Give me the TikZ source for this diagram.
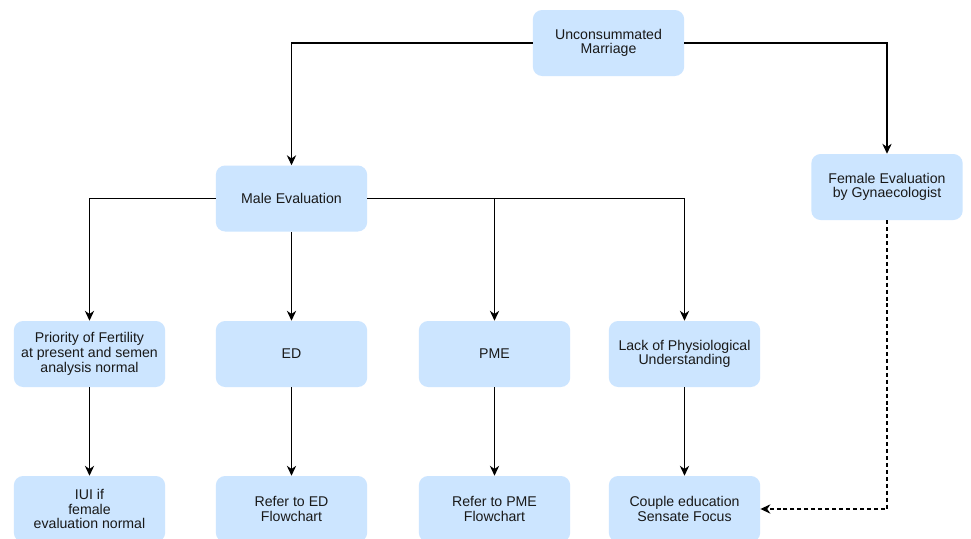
\documentclass[tikz,border=0pt]{standalone}
\usepackage{fontspec}
\setmainfont{Liberation Sans}
\usetikzlibrary{arrows.meta}
\definecolor{boxfill}{HTML}{CCE5FF}
\definecolor{linecol}{HTML}{000000}
\begin{document}
\begin{tikzpicture}[x=0.75pt,y=-0.75pt,
  box/.style={fill=boxfill,draw=none,rounded corners=7pt,
    minimum width=113.5pt,minimum height=49.5pt,align=center,
    inner sep=2pt,font=\fontsize{10.6}{11}\selectfont,text=black!90},
  link/.style={draw=linecol,line width=0.8pt,-{Stealth[length=7.5pt,width=7pt]}},
  dlink/.style={link,dash pattern=on 3pt off 2.2pt}]
\clip (0,0) rectangle (971,539);
\fill[white] (0,0) rectangle (971,539);

% top level
\node[box] (unc) at (608.5,43) {Unconsummated\\Marriage};
\node[box] (male) at (291.5,198.5) {Male Evaluation};
\node[box] (female) at (887,187) {Female Evaluation\\by Gynaecologist};

% causes
\node[box] (prio) at (89.5,354) {Priority of Fertility\\at present and semen\\analysis normal};
\node[box] (ed) at (291.5,354) {ED};
\node[box] (pme) at (494.5,354) {PME};
\node[box] (lack) at (684.5,354) {Lack of Physiological\\Understanding};

% management
\node[box] (iui) at (89.5,509) {IUI if\\female\\evaluation normal};
\node[box] (refed) at (291.5,509) {Refer to ED\\Flowchart};
\node[box] (refpme) at (494.5,509) {Refer to PME\\Flowchart};
\node[box] (couple) at (684.5,509) {Couple education\\Sensate Focus};

% connectors
\draw[link] (unc.west) -| (male.north);
\draw[link] (unc.east) -| (female.north);
\draw[link] (male.west) -| (prio.north);
\draw[link] (male.south) -- (ed.north);
\draw[link] (male.east) -| (pme.north);
\draw[link] (male.east) -| (lack.north);
\draw[link] (prio.south) -- (iui.north);
\draw[link] (ed.south) -- (refed.north);
\draw[link] (pme.south) -- (refpme.north);
\draw[link] (lack.south) -- (couple.north);
\draw[dlink] (female.south) |- (couple.east);
\end{tikzpicture}
\end{document}
